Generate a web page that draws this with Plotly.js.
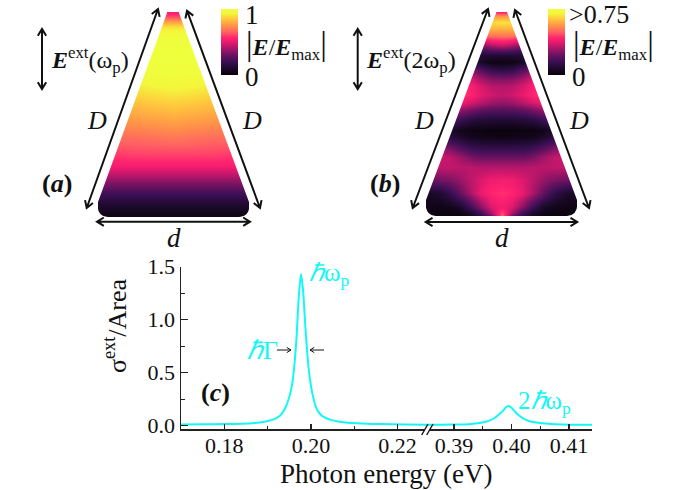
<!DOCTYPE html>
<html><head><meta charset="utf-8">
<script src="https://cdn.plot.ly/plotly-3.0.1.min.js"></script>
<style>html,body{margin:0;padding:0;background:#fff}</style></head>
<body><div id="chart" style="width:680px;height:490px"></div>
<script>
// ---- spectrum (c) ----
const lowEnergy = [0.170,0.175,0.180,0.184,0.187,0.189,0.191,0.192,0.193,0.194,0.195,0.1957,0.1962,0.1967,0.1972,0.1977,0.1982,0.1987,0.1992,0.1997,0.2003,0.2012,0.202,0.203,0.205,0.208,0.212,0.216,0.222,0.2268];
const lowSigma  = [0.012,0.013,0.015,0.018,0.025,0.035,0.055,0.072,0.10,0.16,0.27,0.40,0.58,0.85,1.22,1.43,1.27,0.94,0.66,0.46,0.31,0.17,0.115,0.08,0.05,0.03,0.02,0.015,0.012,0.010];
const highEnergy = [0.3853,0.388,0.391,0.393,0.395,0.396,0.397,0.398,0.3985,0.399,0.3995,0.400,0.4005,0.401,0.402,0.403,0.405,0.407,0.410,0.414];
const highSigma  = [0.008,0.010,0.012,0.017,0.030,0.045,0.070,0.115,0.140,0.172,0.186,0.170,0.140,0.110,0.070,0.045,0.025,0.015,0.010,0.008];
const lowTicks = [0.18,0.20,0.22];
const highTicks = [0.39,0.40,0.41];
const sigmaTicks = [0,0.5,1,1.5];

// ---- field maps: half rows, centre to edge ----
const aCols = [0,0.25,0.5,0.75,1];
const aRows = [13,17,21,26,32,40,50,60,72,82,95,110,125,140,155,165,175,185,195,205,212,217];
const aHalf = [
[.55,.55,.55,.55,.55],[.63,.63,.63,.63,.63],[.76,.76,.76,.76,.76],[.88,.88,.88,.88,.88],
[.96,.96,.96,.96,.96],[.99,.99,.99,.99,.99],[1,1,.99,.98,.97],[1,1,.99,.97,.95],
[.99,.98,.96,.94,.91],[.96,.95,.93,.9,.88],[.9,.89,.87,.85,.83],[.83,.82,.81,.79,.77],
[.76,.75,.74,.73,.71],[.68,.67,.66,.66,.65],[.6,.6,.6,.59,.59],[.54,.54,.54,.54,.54],
[.43,.43,.43,.43,.43],[.31,.31,.31,.31,.31],[.19,.19,.19,.19,.19],[.1,.1,.1,.1,.1],
[.06,.06,.06,.06,.06],[.03,.03,.03,.03,.03]];
const bCols = [0,0.14,0.28,0.42,0.56,0.70,0.84,1];
const bRows = [12,16,22,28,35,40,45,50,55,62,70,78,86,95,103,110,120,130,137,143,150,157,167,180,193,207,213,217];
const bHalf = [
[.55,.55,.55,.55,.55,.55,.55,.55],[.75,.75,.75,.75,.75,.75,.75,.75],[.9,.88,.88,.88,.88,.88,.88,.88],
[.82,.82,.8,.8,.8,.8,.8,.8],[.7,.7,.68,.68,.68,.68,.68,.68],[.58,.56,.52,.52,.52,.52,.52,.52],
[.46,.42,.35,.3,.3,.3,.3,.3],[.28,.26,.22,.18,.18,.18,.18,.18],[.12,.12,.12,.14,.2,.2,.2,.2],
[.03,.04,.08,.18,.3,.3,.3,.3],[.16,.18,.26,.36,.42,.42,.42,.42],[.32,.33,.39,.48,.54,.54,.54,.54],
[.42,.43,.48,.55,.6,.6,.6,.6],[.44,.46,.5,.56,.6,.6,.6,.6],[.36,.38,.42,.47,.52,.54,.54,.54],
[.25,.26,.28,.32,.37,.4,.4,.4],[.11,.11,.12,.14,.2,.25,.25,.25],[.02,.02,.03,.03,.05,.1,.14,.14],
[.04,.05,.05,.06,.1,.15,.18,.18],[.11,.11,.12,.13,.19,.24,.3,.3],[.2,.2,.2,.23,.29,.36,.4,.4],
[.3,.3,.3,.33,.39,.44,.46,.46],[.42,.42,.42,.43,.43,.44,.44,.42],[.53,.52,.48,.43,.37,.33,.31,.28],
[.58,.56,.5,.4,.28,.17,.1,.08],[.53,.48,.34,.2,.08,.05,.04,.04],[.62,.4,.2,.09,.04,.03,.03,.03],
[.7,.25,.12,.05,.03,.03,.03,.03]];
const fieldScale = [[0,'#070006'],[.1,'#1e0a2e'],[.2,'#3c0f55'],[.3,'#6a1260'],[.4,'#a81568'],[.5,'#e81a6e'],[.56,'#ff2270'],[.65,'#ff6262'],[.75,'#ff9348'],[.85,'#ffc83c'],[.93,'#f4f53c'],[1,'#eeff3c']];

const mirrorX = c => c.slice(1).reverse().map(v => -v).concat(c);
const mirrorZ = g => g.map(r => r.slice(1).reverse().concat(r));
const SERIF = '"Liberation Serif","Times New Roman",serif';
const px = x => x / 680, py = y => 1 - y / 490;
const CYAN = '#15f7f7', INK = '#111';

function fieldTrace(cols, rows, half, xa, ya, barX) {
  return {type:'heatmap', x:mirrorX(cols), y:rows, z:mirrorZ(half), xaxis:xa, yaxis:ya,
    zmin:0, zmax:1, zsmooth:'best', colorscale:fieldScale, hoverinfo:'skip',
    colorbar:{x:px(barX), xanchor:'left', xpad:0, ypad:0, y:py(75), yanchor:'bottom',
      len:66/490, lenmode:'fraction', thickness:17, thicknessmode:'pixels',
      outlinewidth:0, ticks:'', showticklabels:false}};
}
const data = [
  {type:'scatter', mode:'lines', x:lowEnergy, y:lowSigma, xaxis:'x', yaxis:'y', line:{color:CYAN,width:2,shape:'spline',smoothing:0.6}, hoverinfo:'skip', cliponaxis:false},
  {type:'scatter', mode:'lines', x:highEnergy, y:highSigma, xaxis:'x2', yaxis:'y', line:{color:CYAN,width:2,shape:'spline',smoothing:0.6}, hoverinfo:'skip', cliponaxis:false},
  fieldTrace(aCols, aRows, aHalf, 'x3', 'y3', 221),
  fieldTrace(bCols, bRows, bHalf, 'x4', 'y4', 548)
];

// shapes, in figure pixels
const P = (x, y) => px(x).toFixed(5) + ',' + py(y).toFixed(5);
function arrowPath(x0, y0, x1, y1, both, head, spread) {
  const a = Math.atan2(y1 - y0, x1 - x0);
  const tip = (x, y, t) => 'M' + P(x + head*Math.cos(t+spread), y + head*Math.sin(t+spread)) + ' L' + P(x, y) + ' L' + P(x + head*Math.cos(t-spread), y + head*Math.sin(t-spread));
  let s = 'M' + P(x0, y0) + ' L' + P(x1, y1) + ' ' + tip(x1, y1, a + Math.PI);
  if (both) s += ' ' + tip(x0, y0, a);
  return s;
}
const arrow = (x0,y0,x1,y1,both=true,w=2,head=8) => ({xref:'paper',yref:'paper',type:'path',path:arrowPath(x0,y0,x1,y1,both,head,0.55),line:{color:INK,width:w}});
function maskPaths(tl, tr, top, bl, br, cy, bot, oL, oR, oT, oB) {
  const left = 'M'+P(oL,oT)+' L'+P(tl,oT)+' L'+P(tl,top)+' L'+P(bl,cy)+' Q'+P(bl-2,bot-1)+' '+P(bl+10,bot)+' L'+P(bl+10,oB)+' L'+P(oL,oB)+' Z';
  const right = 'M'+P(oR,oT)+' L'+P(tr,oT)+' L'+P(tr,top)+' L'+P(br,cy)+' Q'+P(br+2,bot-1)+' '+P(br-10,bot)+' L'+P(br-10,oB)+' L'+P(oR,oB)+' Z';
  const under = 'M'+P(bl,bot)+' L'+P(br,bot)+' L'+P(br,oB)+' L'+P(bl,oB)+' Z';
  return [left,right,under].map(p => ({type:'path',xref:'paper',yref:'paper',path:p,fillcolor:'#fff',line:{width:0},layer:'above'}));
}
const seg = (x0,y0,x1,y1,c,w) => ({type:'line',xref:'paper',yref:'paper',x0:px(x0),y0:py(y0),x1:px(x1),y1:py(y1),line:{color:c,width:w}});
const shapes = [
  ...maskPaths(167,179,13,98,249,202,217,90,256,4,219),
  ...maskPaths(496.5,507,12,426,577,200,216,418,585,4,218.5),
  arrow(86.7,208,158,9), arrow(187,10.7,260,208), arrow(97,221.7,250,221.7), arrow(42,29,42,89),
  arrow(412.7,208,488,9), arrow(515,10,589,208), arrow(425.7,222,577.3,222), arrow(357.7,29,357.7,89),
  arrow(277,350,291,350,false,1,5), arrow(324,350,310,350,false,1,5),
  seg(424.5,430,430,430,'#fff',3),
  seg(421.7,435,428,424,INK,1.4), seg(426.7,435,433,424,INK,1.4)
];

const T = (text,x,y,size,anchor='left',color=INK,angle=0) => ({text,x:px(x),y:py(y),xref:'paper',yref:'paper',xanchor:anchor,yanchor:'middle',showarrow:false,textangle:angle,font:{family:SERIF,size,color}});
const EE = '<span style="font-size:33px">|</span><b><i>E</i></b>/<b><i>E</i></b><sub>max</sub><span style="font-size:33px">|</span>';
const annotations = [
  T('<b><i>E</i></b><sup>ext</sup>(ω<sub>p</sub>)',49,60,24),
  T('<i>D</i>',97,120,26,'center'), T('<i>D</i>',252,120,26,'center'),
  T('<b>(<i>a</i>)</b>',57,183,26,'center'), T('<i>d</i>',174,238,27,'center'),
  T('1',243,15,27), T('0',243,77,27), T(EE,244,45,24),
  T('<b><i>E</i></b><sup>ext</sup>(2ω<sub>p</sub>)',364,60,24),
  T('<i>D</i>',424,120,26,'center'), T('<i>D</i>',579,120,26,'center'),
  T('<b>(<i>b</i>)</b>',385,183,26,'center'), T('<i>d</i>',502,238,27,'center'),
  T('&gt;0.75',567,14,26), T('0',570,77,27), T(EE,571,45,24),
  T('<i>ℏ</i>ω<sub>p</sub>',307,274,25,'left',CYAN),
  T('<i>ℏ</i>Γ',245,350,26,'left',CYAN),
  T('2<i>ℏ</i>ω<sub>p</sub>',516,402,25,'left',CYAN),
  T('<b>(<i>c</i>)</b>',215,392,26,'center'),
  T('Photon energy (eV)',386,474,27,'center'),
  T('σ<sup>ext</sup>/Area',115,326,26,'center',INK,-90)
];

const hidden = {visible:false, showgrid:false, zeroline:false, fixedrange:true};
const axisLine = {showline:true, linecolor:'#222', linewidth:1.5, ticks:'inside', tickcolor:'#222', tickwidth:1.3, showgrid:false, zeroline:false, fixedrange:true, tickfont:{family:SERIF,size:22,color:INK}};
const xTickShift = {ticklabelstandoff:-4};
const layout = {
  width:680, height:490, margin:{l:0,r:0,t:0,b:0}, paper_bgcolor:'#fff', plot_bgcolor:'rgba(0,0,0,0)', showlegend:false,
  xaxis:{...axisLine, ...xTickShift, domain:[px(181),px(427)], range:[0.17,0.2268], anchor:'y', tickmode:'array', tickvals:lowTicks, ticktext:lowTicks.map(v=>v.toFixed(2)), ticklen:5,
    minor:{tickvals:[0.19,0.21],ticks:'inside',ticklen:3,tickcolor:'#222',tickwidth:1.1}},
  xaxis2:{...axisLine, ...xTickShift, domain:[px(427),px(592)], range:[0.3853,0.414], anchor:'y', tickmode:'array', tickvals:highTicks, ticktext:highTicks.map(v=>v.toFixed(2)), ticklen:5,
    minor:{tickvals:[0.395,0.405],ticks:'inside',ticklen:3,tickcolor:'#222',tickwidth:1.1}},
  yaxis:{...axisLine, domain:[py(429.3),py(266.7)], range:[-0.034,1.5], anchor:'x', tickmode:'array', tickvals:sigmaTicks, ticktext:sigmaTicks.map(v=>v.toFixed(1)), ticklen:7,
    minor:{tickvals:[0.25,0.75,1.25],ticks:'inside',ticklen:4,tickcolor:'#222',tickwidth:1.1}},
  xaxis3:{...hidden, domain:[px(98),px(249)], range:[-1,1], anchor:'y3'},
  yaxis3:{...hidden, domain:[py(218),py(12)], range:[218,12], anchor:'x3'},
  xaxis4:{...hidden, domain:[px(426),px(577)], range:[-1,1], anchor:'y4'},
  yaxis4:{...hidden, domain:[py(218),py(12)], range:[218,12], anchor:'x4'},
  shapes, annotations
};
Plotly.newPlot('chart', data, layout, {displayModeBar:false, staticPlot:true});
</script></body></html>
